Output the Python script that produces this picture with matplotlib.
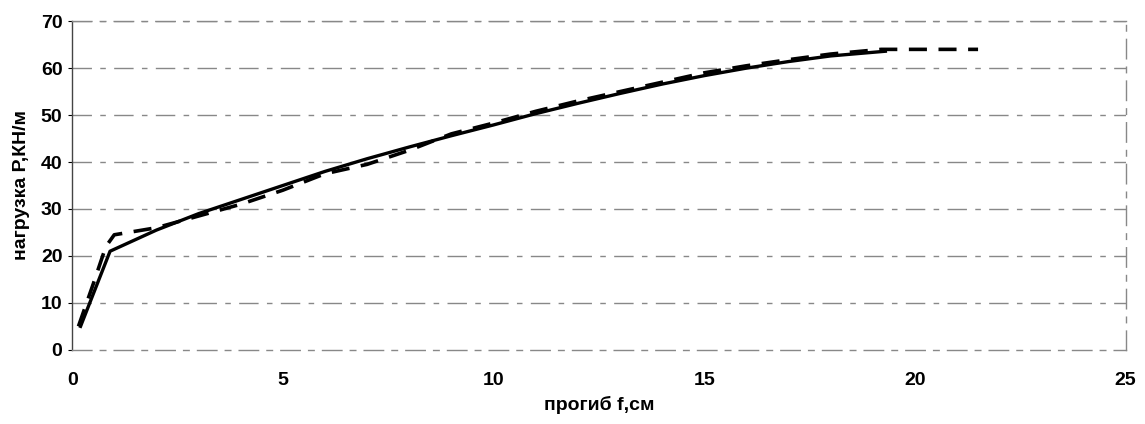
import matplotlib.pyplot as plt

# данные
x_solid = [0.2, 0.9, 2, 3, 4, 5, 6, 7, 8, 9, 10, 11, 12, 13, 14, 15, 16, 17, 18, 19.3]
p_solid = [5, 21, 25.5, 29, 32, 35, 38, 40.7, 43.2, 45.6, 47.9, 50.3, 52.5, 54.6, 56.6, 58.4, 60, 61.4, 62.6, 63.6]

x_dash = [0.15, 0.5, 0.8, 1.0, 2, 3, 4, 5, 6, 7, 8, 9, 10, 11, 12, 13, 14, 15, 16, 17, 18, 19.2, 21.5]
p_dash = [5, 14, 22, 24.5, 26, 28.5, 31, 34, 37.5, 39.5, 42.5, 46, 48.3, 50.8, 53, 55, 57, 59, 60.5, 61.8, 63, 64, 64]

x_ticks = [0, 5, 10, 15, 20, 25]
y_ticks = [0, 10, 20, 30, 40, 50, 60, 70]

plt.rcParams['font.family'] = ['Liberation Sans', 'DejaVu Sans']
plt.rcParams['font.weight'] = 'bold'

fig = plt.figure(figsize=(11.45, 4.24), dpi=100)
ax = fig.add_axes([0.063, 0.175, 0.92, 0.775])

# сетка
for y in y_ticks[1:]:
    ax.axhline(y, color='#888888', lw=1.0, ls=(0, (14, 6, 4, 6)), zorder=1)

ax.plot(x_solid, p_solid, color='black', lw=2.4, zorder=3)
ax.plot(x_dash, p_dash, color='black', lw=2.6, ls=(0, (5, 3.2)), zorder=3)

ax.set_xlim(0, 25)
ax.set_ylim(0, 70)
ax.set_xticks(x_ticks)
ax.set_yticks(y_ticks)
ax.tick_params(axis='x', length=0, pad=16, labelsize=14)
ax.tick_params(axis='y', length=3, pad=4, labelsize=14)

for side in ['top', 'right', 'bottom']:
    ax.spines[side].set_color('#888888')
    ax.spines[side].set_linestyle((0, (14, 6, 4, 6)))
    ax.spines[side].set_linewidth(1.0)
ax.spines['left'].set_color('#444444')
ax.spines['left'].set_linewidth(1.0)

ax.set_xlabel('прогиб f,см', fontsize=14, fontweight='bold', labelpad=5)
ax.set_ylabel('нагрузка Р,КН/м', fontsize=14, fontweight='bold', labelpad=8)

plt.savefig('out.png', dpi=100)
